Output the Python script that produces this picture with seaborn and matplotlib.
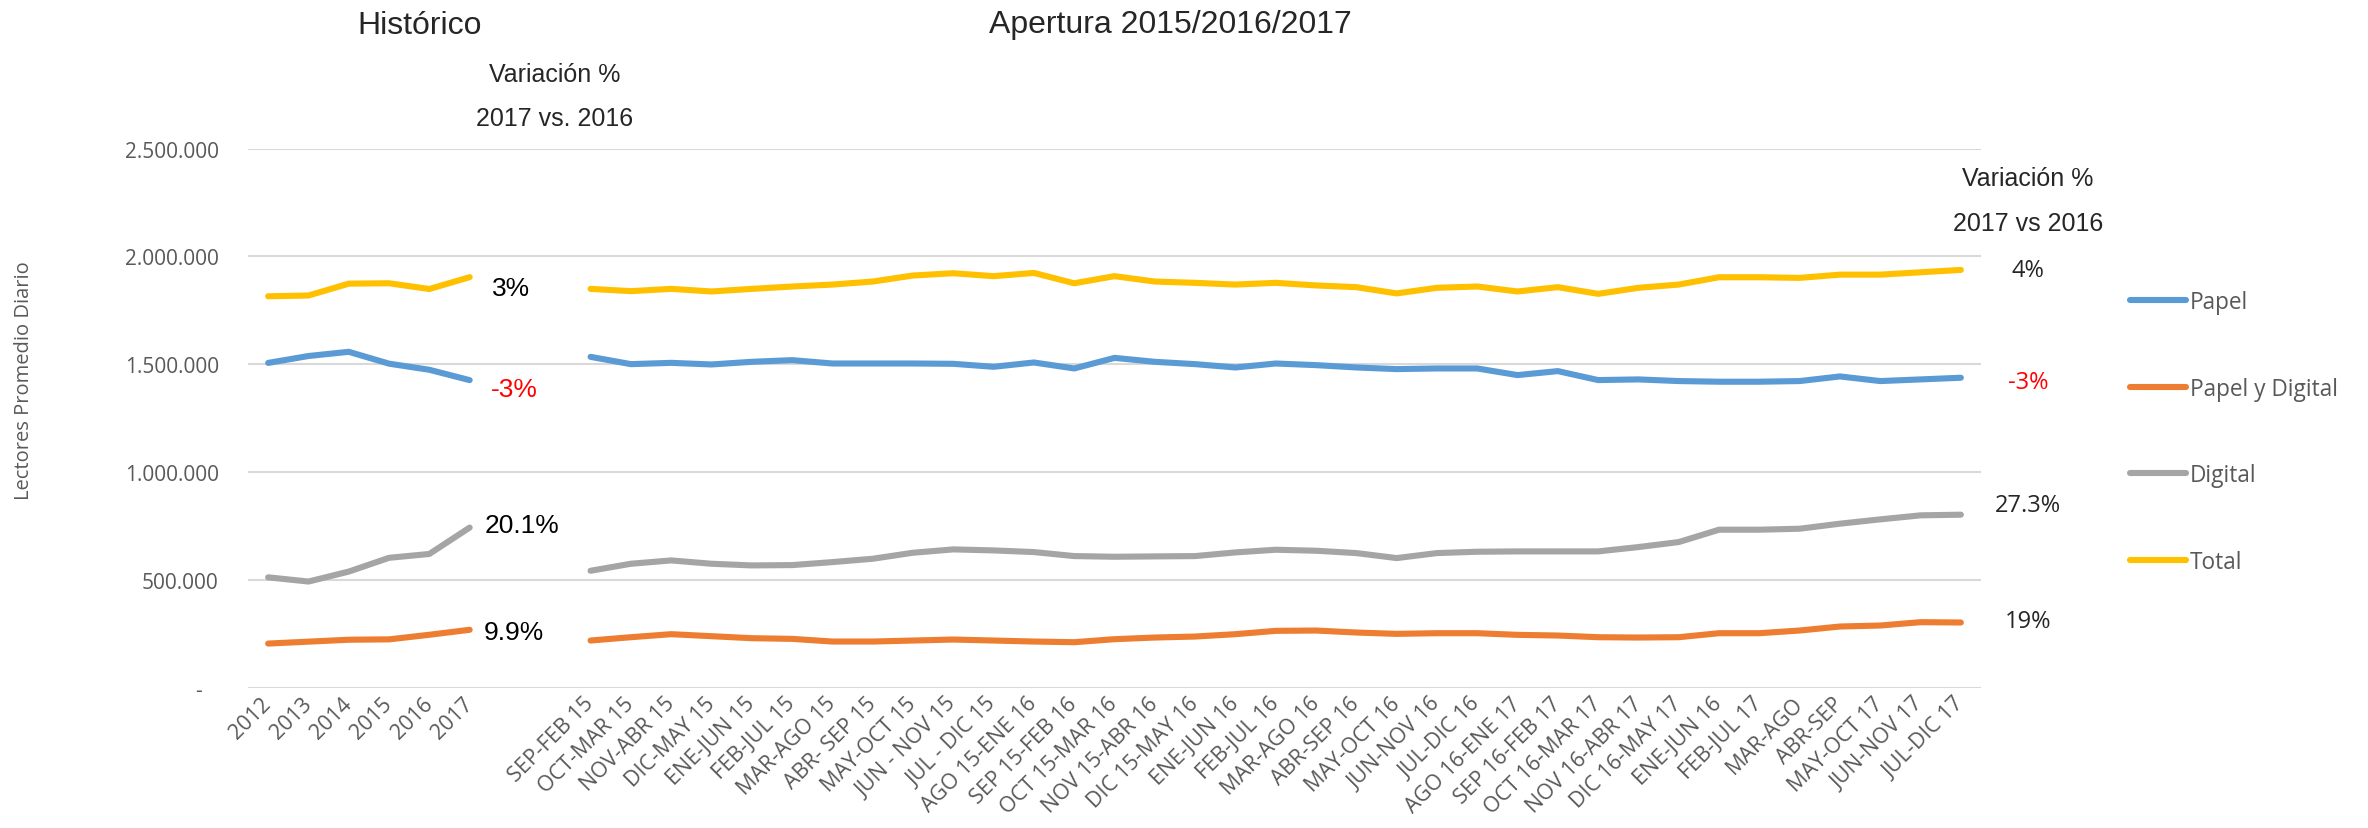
import matplotlib
matplotlib.use('Agg')
import matplotlib.pyplot as plt
import matplotlib.ticker as mticker
import seaborn as sns
import pandas as pd

# categorias del eje x
anios = ['2012', '2013', '2014', '2015', '2016', '2017']
periodos = ['SEP-FEB 15', 'OCT-MAR 15', 'NOV-ABR 15', 'DIC-MAY 15', 'ENE-JUN 15',
            'FEB-JUL 15', 'MAR-AGO 15', 'ABR- SEP 15', 'MAY-OCT 15', 'JUN - NOV 15',
            'JUL - DIC 15', 'AGO 15-ENE 16', 'SEP 15-FEB 16', 'OCT 15-MAR 16',
            'NOV 15-ABR 16', 'DIC 15-MAY 16', 'ENE-JUN 16', 'FEB-JUL 16', 'MAR-AGO 16',
            'ABR-SEP 16', 'MAY-OCT 16', 'JUN-NOV 16', 'JUL-DIC 16', 'AGO 16-ENE 17',
            'SEP 16-FEB 17', 'OCT 16-MAR 17', 'NOV 16-ABR 17', 'DIC 16-MAY 17',
            'ENE-JUN 16', 'FEB-JUL 17', 'MAR-AGO', 'ABR-SEP', 'MAY-OCT 17',
            'JUN-NOV 17', 'JUL-DIC 17']
series = ['Papel', 'Papel y Digital', 'Digital', 'Total']

# historico anual
hist_papel = [1505700, 1537700, 1557200, 1502200, 1473800, 1425800]
hist_papel_digital = [204200, 213100, 222000, 223700, 245000, 268100]
hist_digital = [511400, 491800, 538000, 601900, 619700, 742200]
hist_total = [1814700, 1818200, 1873300, 1875000, 1848400, 1903400]

# apertura por periodo movil
per_papel = [1533800, 1500000, 1506000, 1498500, 1510800, 1518500, 1503000, 1503000,
             1503000, 1501500, 1487700, 1507700, 1480000, 1529000, 1510800, 1500000,
             1484600, 1503000, 1495400, 1484600, 1477000, 1480000, 1480000, 1449200,
             1467700, 1426100, 1429200, 1421500, 1418500, 1418500, 1421500, 1443000,
             1421500, 1429200, 1436900]
per_papel_digital = [218300, 233700, 247700, 238400, 229100, 226000, 213600, 213600,
                     218300, 222900, 218300, 213600, 210500, 224500, 232200, 236800,
                     247700, 263200, 264700, 255400, 249200, 252300, 252300, 244600,
                     241500, 233700, 232200, 233700, 252300, 252300, 264700, 283300,
                     287900, 303400, 301900]
per_digital = [541800, 574300, 589800, 574300, 566600, 568100, 582000, 597500,
               625400, 640900, 636200, 628500, 609900, 606800, 608400, 609900,
               626900, 639300, 634700, 623800, 600600, 623800, 630000, 631600,
               631600, 631600, 651700, 674900, 732200, 732200, 736800, 760100,
               780200, 798800, 801900]
per_total = [1849000, 1838500, 1849000, 1837000, 1849000, 1860000, 1869000, 1883000,
             1911000, 1921500, 1908000, 1923000, 1875000, 1908000, 1883000, 1877000,
             1869000, 1877000, 1865000, 1857000, 1828000, 1854000, 1860000, 1837000,
             1857000, 1826000, 1854000, 1869000, 1903000, 1903000, 1900000, 1915000,
             1915000, 1926000, 1937000]

var_hist = ['-3%', '9.9%', '20.1%', '3%']
var_per = ['-3%', '19%', '27.3%', '4%']

colores = ['#5B9BD5', '#ED7D31', '#A5A5A5', '#FFC000']

# dos huecos vacios entre el historico y la apertura
etiquetas = anios + ['', ''] + periodos
pos_hist = list(range(len(anios)))
pos_per = list(range(len(anios) + 2, len(etiquetas)))

hist = [hist_papel, hist_papel_digital, hist_digital, hist_total]
per = [per_papel, per_papel_digital, per_digital, per_total]
rows = []
for s, h, p in zip(series, hist, per):
    for x, v in zip(pos_hist, h):
        rows.append({'pos': x, 'lectores': v, 'serie': s, 'tramo': 'hist'})
    for x, v in zip(pos_per, p):
        rows.append({'pos': x, 'lectores': v, 'serie': s, 'tramo': 'per'})
df = pd.DataFrame(rows)

sns.set_style('white')
W, H = 2368, 829
fig = plt.figure(figsize=(W / 100, H / 100), dpi=100)
ax = fig.add_axes([248 / W, 1 - 688.6 / H, (1981 - 248) / W, (688.6 - 149.5) / H])

sns.lineplot(data=df, x='pos', y='lectores', hue='serie', hue_order=series,
             units='tramo', estimator=None, palette=colores, linewidth=4.4,
             solid_capstyle='round', solid_joinstyle='round', ax=ax)

ax.set_xlim(-0.5, len(etiquetas) - 0.5)
ax.set_ylim(0, 2500000)
ax.set_yticks([0, 500000, 1000000, 1500000, 2000000, 2500000])
ax.yaxis.set_major_formatter(mticker.FuncFormatter(
    lambda v, p: '-   ' if v == 0 else f'{v:,.0f}'.replace(',', '.')))
ax.set_xticks(range(len(etiquetas)))
ax.set_xticklabels(etiquetas, rotation=45, ha='right', va='center',
                   rotation_mode='anchor')
ax.grid(axis='y', color='#D9D9D9', linewidth=1.5)
ax.grid(axis='x', visible=False)
ax.set_axisbelow(True)
for sp in ax.spines.values():
    sp.set_visible(False)
ax.tick_params(axis='y', length=0, pad=21, labelsize=15, labelcolor='#595959')
ax.tick_params(axis='x', length=0, pad=9, labelsize=15.5, labelcolor='#595959')
for lab in ax.get_xticklabels() + ax.get_yticklabels():
    lab.set_fontfamily('Open Sans')

ax.set_xlabel('')
ax.set_ylabel('Lectores Promedio Diario', fontsize=14.5, color='#595959',
              family='Open Sans', va='center')
ax.yaxis.set_label_coords((24 - 248) / (1981 - 248), (688.6 - 381) / (688.6 - 149.5))

handles, labels = ax.get_legend_handles_labels()
for hd in handles:
    hd.set_linewidth(4.4)
    hd.set_solid_capstyle('round')
leg = ax.legend(handles, labels, loc='upper left', bbox_to_anchor=(2119 / W, 1 - 280 / H),
                bbox_transform=fig.transFigure, frameon=False,
                labelspacing=2.76, handlelength=2.45, handletextpad=0.17, borderpad=0,
                prop={'family': 'Open Sans', 'size': 16.3})
for t in leg.get_texts():
    t.set_color('#595959')

# titulos y textos
def ftext(x, y, s, **kw):
    fig.text(x / W, 1 - y / H, s, va='baseline', **kw)

arial = 'Liberation Sans'
ftext(420, 33.5, 'Histórico', ha='center', fontsize=23, family=arial)
ftext(1170, 33.5, 'Apertura 2015/2016/2017', ha='center', fontsize=23, family=arial)
ftext(555, 82, 'Variación %', ha='center', fontsize=18, family=arial)
ftext(555, 126, '2017 vs. 2016', ha='center', fontsize=18, family=arial)
ftext(2028, 186, 'Variación %', ha='center', fontsize=18, family=arial)
ftext(2028, 231, '2017 vs 2016', ha='center', fontsize=18, family=arial)

y_hist = [396.6, 640, 533, 296]
x_hist = [514, 514, 522, 511]
for s, x, y in zip(var_hist, x_hist, y_hist):
    ftext(x, y, s, ha='center', fontsize=19, family=arial,
          color='#FF0000' if s.startswith('-') else 'black')

y_per = [389, 628, 512, 277]
for s, y in zip(var_per, y_per):
    ftext(2028, y, s, ha='center', fontsize=17, family='Open Sans',
          color='#FF0000' if s.startswith('-') else '#262626')

fig.savefig('out.png', dpi=100)
